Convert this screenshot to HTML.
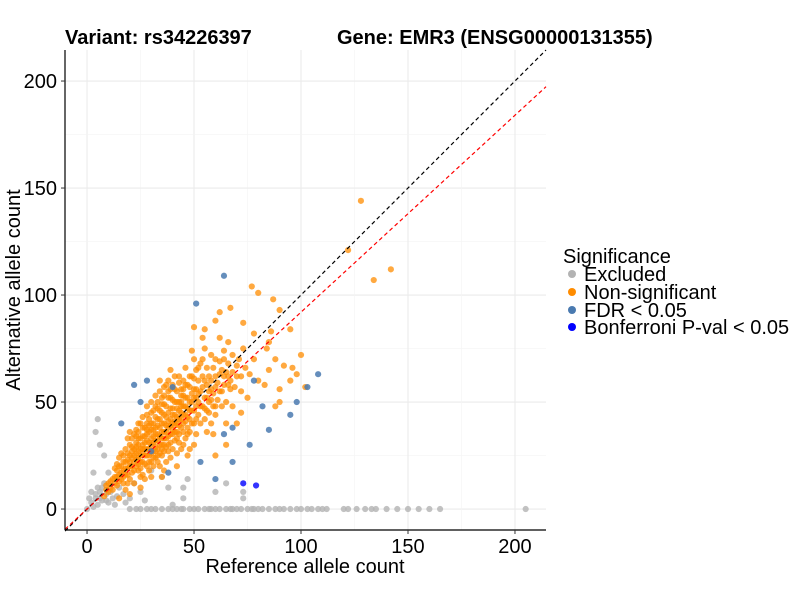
<!DOCTYPE html>
<html><head><meta charset="utf-8">
<style>
body{margin:0;background:#fff;}
svg{display:block;font-family:"Liberation Sans",Arial,sans-serif;}
</style></head>
<body>
<svg id="chart" width="800" height="600" viewBox="0 0 800 600">
<text x="65" y="44" font-size="20" font-weight="bold">Variant: rs34226397</text>
<text x="337" y="44" font-size="20" font-weight="bold">Gene: EMR3 (ENSG00000131355)</text>
<g id="grid"></g>
<g id="marks"></g>
<g id="lines"></g>
<g id="axes"></g>
<text x="305" y="573" font-size="20" text-anchor="middle">Reference allele count</text>
<text transform="translate(20,290) rotate(-90)" font-size="20" text-anchor="middle">Alternative allele count</text>
<g>
<text x="563" y="263" font-size="20">Significance</text>
<circle cx="572" cy="274" r="4" fill="#b3b3b3"/>
<text x="584" y="281" font-size="20">Excluded</text>
<circle cx="572" cy="292" r="4" fill="#ff8c00"/>
<text x="584" y="299" font-size="20">Non-significant</text>
<circle cx="572" cy="310" r="4" fill="#4a7ab0"/>
<text x="584" y="317" font-size="20">FDR &lt; 0.05</text>
<circle cx="572" cy="327" r="4" fill="#0000ff"/>
<text x="584" y="334" font-size="20">Bonferroni P-val &lt; 0.05</text>
</g>
</svg>
<script>
const xTicks=[0,50,100,150,200];
const yTicks=[0,50,100,150,200];
const excluded=[[20,0],[25,0],[28,0],[32,0],[35,0],[38,0],[40,0],[42,0],[45,0],[48,0],[50,0],[52,0],[55,0],[58,0],[60,0],[62,0],[65,0],[68,0],[70,0],[72,0],[75,0],[78,0],[80,0],[82,0],[85,0],[88,0],[90,0],[95,0],[98,0],[100,0],[103,0],[105,0],[110,0],[112,0],[120,0],[122,0],[130,0],[133,0],[135,0],[140,0],[145,0],[150,0],[155,0],[160,0],[165,0],[205,0],
[0,0],[2,3],[3,1],[4,5],[5,2],[6,8],[7,4],[8,12],[9,7],[10,17],[3,17],[5,10],[2,8],[6,30],[5,42],[4,36],[8,25],[1,5],[12,5],[15,10],[18,3],[22,12],[25,8],[30,18],[35,15],[40,2],[45,5],[45,10],[38,10],[60,8],[20,5],[10,3],[7,10],[4,7],[13,2],[27,4],[17,7],[73,5],[73,8],[47,14],[65,12],[23,0],[30,0],[44,0],[57,0],[67,0],[77,0],[92,0],[108,0],[126,0],[6,5],[9,4],[11,8],[14,6]];
const nonsig=[[8,6],[9,9],[10,8],[10,12],[11,10],[12,9],[12,14],[11,13],[9,11],[13,12],
[13,15],[14,11],[14,18],[15,13],[15,16],[16,20],[16,14],[17,12],[17,18],[13,19],[15,24],[16,26],[17,22],[14,21],[18,9],
[18,16],[18,22],[19,19],[19,26],[20,14],[20,20],[20,30],[21,24],[21,17],[22,22],[22,28],[18,28],[19,33],[21,33],[22,12],[20,25],[22,35],[19,12],
[23,20],[23,26],[23,31],[24,18],[24,24],[24,36],[25,22],[25,28],[25,40],[26,30],[26,16],[26,34],[27,25],[27,38],[27,21],[24,30],[25,33],[26,43],[23,37],[27,14],[25,15],
[28,28],[28,35],[28,20],[29,31],[29,42],[29,25],[30,30],[30,37],[30,22],[30,45],[31,27],[31,34],[31,40],[32,32],[32,24],[32,38],[32,48],[28,44],[29,18],[30,50],[31,20],[28,40],[32,29],[29,36],
[33,35],[33,28],[33,42],[34,30],[34,38],[34,46],[35,33],[35,40],[35,25],[35,52],[36,36],[36,44],[36,30],[37,39],[37,48],[37,22],[33,50],[34,55],[36,57],[37,33],[35,45],[34,20],[36,18],[33,22],
[38,38],[38,45],[38,30],[39,42],[39,35],[39,52],[40,40],[40,47],[40,28],[40,58],[41,36],[41,44],[41,50],[42,40],[42,33],[42,55],[38,60],[39,24],[41,62],[42,47],[40,35],[38,52],[42,26],[39,65],
[43,42],[43,50],[43,35],[44,45],[44,38],[44,56],[45,48],[45,40],[45,60],[46,44],[46,52],[46,33],[47,47],[47,58],[47,38],[43,62],[45,30],[46,66],[44,28],[47,25],[45,53],
[48,50],[48,42],[48,57],[49,46],[49,62],[50,52],[50,40],[50,70],[51,48],[51,56],[51,35],[52,50],[52,60],[48,36],[49,74],[52,44],[50,30],[51,65],[53,68],
[53,55],[54,48],[54,62],[55,52],[55,42],[56,58],[56,66],[57,50],[57,45],[58,60],[58,72],[59,54],[60,48],[60,62],[55,75],[58,40],[56,36],[60,70],[54,80],[59,35],[62,55],[62,80],
[63,65],[64,58],[65,50],[66,68],[67,60],[68,72],[70,62],[70,40],[72,55],[74,66],[75,52],[65,40],[66,78],[68,48],[72,45],[64,70],[73,75],
[50,85],[55,84],[60,88],[62,92],[67,94],[77,104],[80,101],[87,98],[90,93],[95,84],[86,83],[73,87],[78,82],[84,75],[88,70],[92,67],[96,66],[100,72],[85,65],[90,56],[83,58],[80,60],[98,63],[102,57],[95,60],[90,50],[88,48],[122,121],[128,144],[142,112],[134,107],[85,78],[78,70],[76,63],[60,25],[65,30],[48,28],[42,20],[35,15],[30,15],[20,7],[15,5],[25,10],
[21,29],[23,23],[26,26],[27,31],[29,28],[31,31],[33,32],[35,36],[37,43],[39,39],[41,41],[43,46],[45,44],[47,52],[49,54],[28,32],[30,26],[34,34],[36,40],[38,34],[40,44],[42,50],[44,42],[46,48],[24,27],[26,22],[32,35],[36,27],[44,50],[50,46],
[14,15],[16,17],[18,19],[20,22],[22,25],[24,21],[26,28],[28,25],[30,33],[32,27],[34,42],[36,33],[38,41],[40,37],[42,43],[44,48],[46,41],[48,46],[50,56],[52,54],[54,57],[56,52],[58,56],[60,57],[62,63],[64,62],[66,58],[68,64],[70,67],[72,62],
[17,25],[19,23],[21,20],[23,34],[25,25],[27,34],[29,39],[31,37],[33,39],[35,30],[37,36],[39,47],[41,39],[43,39],[45,56],[47,43],[49,50],[51,52],[53,48],[55,60],[57,55],[59,66],[61,59],[63,55],[65,64],[67,56],[69,57],[71,70],[36,49],[38,55],
[22,18],[24,33],[26,38],[28,37],[30,40],[32,43],[34,26],[36,53],[38,27],[40,51],[42,36],[44,53],[46,58],[48,62],[50,61],[52,66],[54,70],[56,46],[58,51],[60,44],[62,69],[64,74],[66,62],[31,46],[33,47],[35,49],[37,58],[39,56],[41,56],[43,59],
[15,20],[17,15],[19,16],[21,27],[23,29],[25,19],[27,28],[29,22],[31,24],[33,25],[35,28],[37,29],[39,31],[41,32],[43,31],[45,36],[47,35],[49,40],[51,42],[53,40],[55,47],[57,62],[59,48],[61,51],[63,48],[20,36],[24,40],[28,48],[32,53],[34,60]];
const fdr=[[64,109],[51,96],[78,60],[108,63],[103,57],[98,50],[95,44],[82,48],[68,38],[64,35],[40,57],[16,40],[53,22],[60,14],[68,22],[76,30],[85,37],[30,27],[25,50],[28,60],[22,58],[38,17]];
const bonf=[[73,12],[79,11]];
const NS="http://www.w3.org/2000/svg";
const X0=65,X1=546,Y0=50,Y1=530,xmin=-10.3,xmax=214.5,ymin=-9.8,ymax=214.5;
const sx=v=>X0+(v-xmin)/(xmax-xmin)*(X1-X0);
const sy=v=>Y1-(v-ymin)/(ymax-ymin)*(Y1-Y0);
function mk(t,a,p){const e=document.createElementNS(NS,t);for(const k in a)e.setAttribute(k,a[k]);p.appendChild(e);return e;}
const grid=document.getElementById('grid');
for(let v=-25;v<=225;v+=25){
 const major=v%50===0;
 if(v>=xmin&&v<=xmax){const l=mk('line',{x1:sx(v),x2:sx(v),y1:Y0,y2:Y1,stroke:major?'#ebebeb':'#f4f4f4','stroke-width':major?1.1:0.6},grid);
 
 }
 if(v>=ymin&&v<=ymax){const l=mk('line',{x1:X0,x2:X1,y1:sy(v),y2:sy(v),stroke:major?'#ebebeb':'#f4f4f4','stroke-width':major?1.1:0.6},grid);
 
 }
}
const marks=document.getElementById('marks');
function draw(arr,col,op,name){for(const [x,y] of arr){const c=mk('circle',{cx:sx(x),cy:sy(y),r:3.1,fill:col,'fill-opacity':op},marks);
 
 }}
draw(excluded,'#b3b3b3',0.8,'excluded-point');
draw(nonsig,'#ff8c00',0.75,'nonsig-point');
draw(fdr,'#4a7ab0',0.85,'fdr-point');
draw(bonf,'#0000ff',0.8,'bonferroni-point');
const lines=document.getElementById('lines');
const l1=mk('line',{x1:sx(-10.3),y1:sy(-10.3),x2:sx(214.5),y2:sy(214.5),stroke:'#000','stroke-width':1.2,'stroke-dasharray':'4,3'},lines);


const slope=0.92;
const l2=mk('line',{x1:sx(-10.3),y1:sy(-10.3*slope),x2:sx(214.5),y2:sy(214.5*slope),stroke:'#ff0000','stroke-width':1.2,'stroke-dasharray':'4,3'},lines);


const axes=document.getElementById('axes');
mk('line',{x1:X0,x2:X0,y1:Y0,y2:Y1,stroke:'#000','stroke-width':1.2},axes);
mk('line',{x1:X0,x2:X1,y1:Y1,y2:Y1,stroke:'#000','stroke-width':1.2},axes);
for(const v of xTicks){mk('line',{x1:sx(v),x2:sx(v),y1:Y1,y2:Y1+4,stroke:'#333'},axes);
 const t=mk('text',{x:sx(v),y:Y1+23,'font-size':20,'text-anchor':'middle'},axes);t.textContent=v;
 
 }
for(const v of yTicks){mk('line',{x1:X0-4,x2:X0,y1:sy(v),y2:sy(v),stroke:'#333'},axes);
 const t=mk('text',{x:X0-8,y:sy(v)+7,'font-size':20,'text-anchor':'end'},axes);t.textContent=v;
 
 }
</script>
</body></html>
